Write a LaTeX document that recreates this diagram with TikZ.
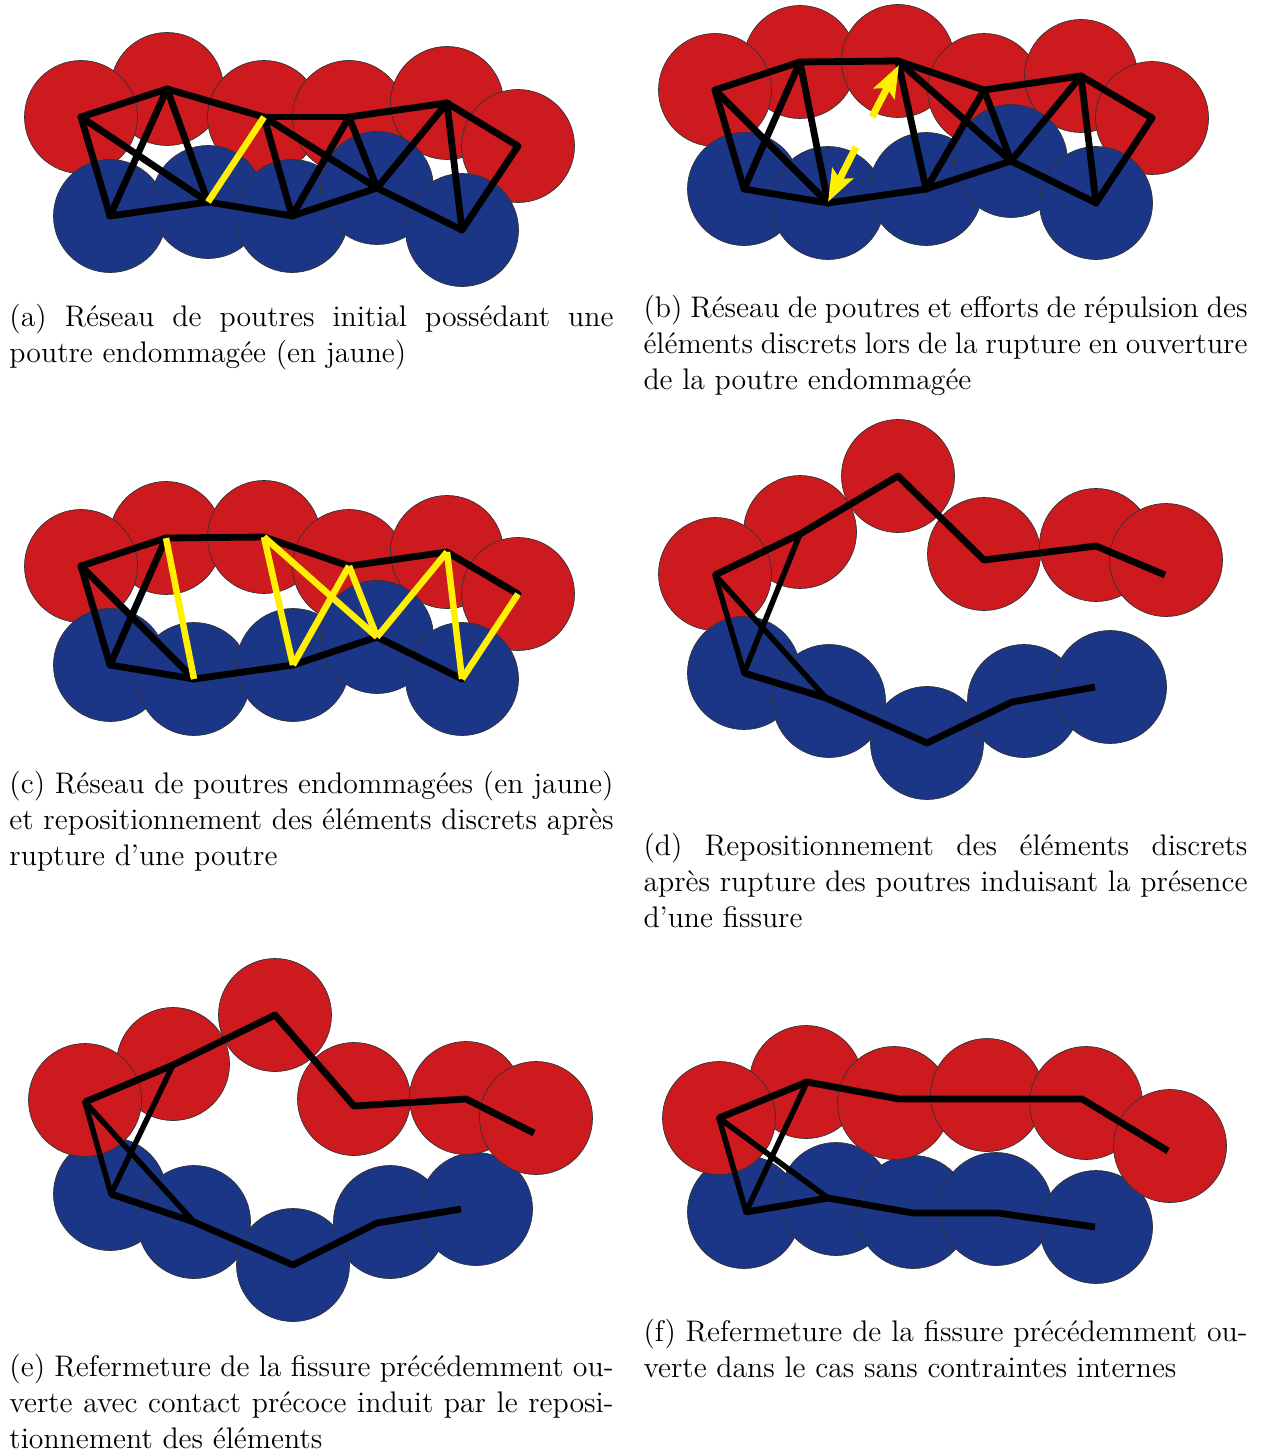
\documentclass[tikz,border=0pt]{standalone}
\usetikzlibrary{arrows.meta}
\definecolor{discred}{RGB}{204,26,30}
\definecolor{discblue}{RGB}{27,54,135}
\definecolor{beamyellow}{RGB}{255,240,0}
\tikzset{
  disc/.style={circle,draw=black!80,line width=0.7bp,inner sep=0pt,minimum size=113bp},
  reddisc/.style={disc,fill=discred},
  bluedisc/.style={disc,fill=discblue},
  beam/.style={draw=black,line width=6.8bp,line cap=round,line join=round},
  rail/.style={draw=black,line width=6.8bp,line cap=butt,line join=round},
  thinbeam/.style={draw=black,line width=5.5bp,line cap=round},
  brokenbeam/.style={draw=beamyellow,line width=6.5bp,line cap=butt},
  force/.style={draw=beamyellow,line width=7bp,-{Stealth[length=32bp,width=23bp,inset=6bp]}},
  caption/.style={anchor=north west,inner sep=0pt,scale=2.49,text width=242.57bp,align=justify,
    font=\fontsize{12}{14.5}\selectfont}
}
\begin{document}
\begin{tikzpicture}[x=1bp,y=-1bp]
\useasboundingbox (0,0) rectangle (1260,1450);
\fill[white] (0,0) rectangle (1260,1450);

% ---------- (a)
\foreach \n/\x/\y in {aR2/167/89,aR1/81/117,aR3/264/117,aR4/349/117,aR5/447/103,aR6/518/146}
  \node[reddisc] (\n) at (\x,\y) {};
\foreach \n/\x/\y in {aB1/110/216,aB2/208/202,aB3/292/216,aB4/377/188,aB5/462/230}
  \node[bluedisc] (\n) at (\x,\y) {};
\foreach \p/\q in {aR1/aR2,aR2/aR3,aR3/aR4,aR4/aR5,aR5/aR6,aB1/aB2,aB2/aB3,aB3/aB4,aB4/aB5,
  aR1/aB1,aR1/aB2,aR2/aB1,aR2/aB2,aR3/aB3,aR3/aB4,aR4/aB3,aR4/aB4,aR5/aB4,aR5/aB5,aR6/aB5}
  \draw[beam] (\p.center) -- (\q.center);
\draw[brokenbeam] (aR3.center) -- (aB2.center);
\node[caption] (capa) at (9,304) {(a) Réseau de poutres initial possédant une\linebreak poutre endommagée (en jaune)};

% ---------- (b)
\foreach \n/\x/\y in {bR2/800/62,bR1/715/90,bR3/898/61,bR4/984/90,bR5/1081/76,bR6/1152/118}
  \node[reddisc] (\n) at (\x,\y) {};
\foreach \n/\x/\y in {bB1/744/189,bB2/828/203,bB3/926/189,bB4/1011/161,bB5/1096/203}
  \node[bluedisc] (\n) at (\x,\y) {};
\foreach \p/\q in {bR1/bR2,bR2/bR3,bR3/bR4,bR4/bR5,bR5/bR6,bB1/bB2,bB2/bB3,bB3/bB4,bB4/bB5,
  bR1/bB1,bR1/bB2,bR2/bB1,bR2/bB2,bR3/bB3,bR3/bB4,bR4/bB3,bR4/bB4,bR5/bB4,bR5/bB5,bR6/bB5}
  \draw[beam] (\p.center) -- (\q.center);
\coordinate (bF1) at (872,117);
\coordinate (bT1) at (899,65);
\coordinate (bF2) at (856,147);
\coordinate (bT2) at (828,202);
\draw[force] (bF1) -- (bT1);
\draw[force] (bF2) -- (bT2);
\node[caption] (capb) at (643,295) {(b) Réseau de poutres et efforts de répulsion des\linebreak éléments discrets lors de la rupture en ouverture\linebreak de la poutre endommagée};

% ---------- (c)
\foreach \n/\x/\y in {cR2/166/538,cR1/81/566,cR3/264/537,cR4/349/566,cR5/447/552,cR6/518/594}
  \node[reddisc] (\n) at (\x,\y) {};
\foreach \n/\x/\y in {cB1/110/665,cB2/194/679,cB3/293/665,cB4/377/637,cB5/462/679}
  \node[bluedisc] (\n) at (\x,\y) {};
\foreach \p/\q in {cR1/cR2,cR2/cR3,cR3/cR4,cR4/cR5,cR5/cR6,cB1/cB2,cB2/cB3,cB3/cB4,cB4/cB5,
  cR1/cB1,cR1/cB2,cR2/cB1}
  \draw[beam] (\p.center) -- (\q.center);
\foreach \p/\q in {cR2/cB2,cR3/cB3,cR3/cB4,cR4/cB3,cR4/cB4,cR5/cB4,cR5/cB5,cR6/cB5}
  \draw[brokenbeam] (\p.center) -- (\q.center);
\node[caption] (capc) at (9,771) {(c) Réseau de poutres endommagées (en jaune)\linebreak et repositionnement des éléments discrets après\linebreak rupture d’une poutre};

% ---------- (d)
\foreach \n/\x/\y in {dR2/800/532,dR1/715/574,dR3/898/476,dR4/984/554,dR5/1096/545,dR6/1166/560}
  \node[reddisc] (\n) at (\x,\y) {};
\foreach \n/\x/\y in {dB1/744/673,dB2/829/701,dB3/927/743,dB4/1024/701,dB5/1110/687}
  \node[bluedisc] (\n) at (\x,\y) {};
\foreach \n/\x/\y in {dJ1/715/575,dJ2/800/534,dJ3/898/476,dJ4/984/560,dJ5/1096/546,dJ6/1165/575,
  dK1/744/673,dK2/826/698,dK3/927/743,dK4/1012/702,dK5/1095/687}
  \coordinate (\n) at (\x,\y);
\foreach \p/\q in {dJ1/dK1,dJ1/dK2,dJ2/dK1}
  \draw[thinbeam] (\p) -- (\q);
\draw[rail] (dJ1) -- (dJ2) -- (dJ3) -- (dJ4) -- (dJ5) -- (dJ6);
\draw[rail] (dK1) -- (dK2) -- (dK3) -- (dK4) -- (dK5);
\node[caption] (capd) at (643,833) {(d) Repositionnement des éléments discrets\linebreak après rupture des poutres induisant la présence\linebreak d’une fissure};

% ---------- (e)
\foreach \n/\x/\y in {eB1/110/1194,eB2/194/1222,eB3/293/1265,eB4/390/1222,eB5/476/1209}
  \node[bluedisc] (\n) at (\x,\y) {};
\foreach \n/\x/\y in {eR2/173/1064,eR1/85/1100,eR3/275/1015,eR4/354/1099,eR5/466/1098,eR6/536/1118}
  \node[reddisc] (\n) at (\x,\y) {};
\foreach \n/\x/\y in {eJ1/85/1102,eJ2/173/1065,eJ3/275/1015,eJ4/354/1106,eJ5/466/1099,eJ6/534/1133,
  eK1/111/1194,eK2/194/1222,eK3/293/1265,eK4/377/1223,eK5/461/1209}
  \coordinate (\n) at (\x,\y);
\foreach \p/\q in {eJ1/eK1,eJ1/eK2,eJ2/eK1}
  \draw[thinbeam] (\p) -- (\q);
\draw[rail] (eJ1) -- (eJ2) -- (eJ3) -- (eJ4) -- (eJ5) -- (eJ6);
\draw[rail] (eK1) -- (eK2) -- (eK3) -- (eK4) -- (eK5);
\node[caption] (cape) at (9,1354) {(e) Refermeture de la fissure précédemment ou-\linebreak verte avec contact précoce induit par le reposi-\linebreak tionnement des éléments};

% ---------- (f)
\foreach \n/\x/\y in {fB1/744/1212,fB2/836/1199,fB3/913/1212,fB4/996/1209,fB5/1096/1227}
  \node[bluedisc] (\n) at (\x,\y) {};
\foreach \n/\x/\y in {fR2/806/1082,fR1/719/1118,fR3/894/1103,fR4/987/1095,fR5/1086/1103,fR6/1170/1146}
  \node[reddisc] (\n) at (\x,\y) {};
\foreach \n/\x/\y in {fJ1/719/1118,fJ2/807/1082,fJ3/899/1099,fJ4/988/1099,fJ5/1082/1099,fJ6/1168/1151,
  fK1/746/1212,fK2/828/1198,fK3/913/1213,fK4/998/1213,fK5/1095/1227}
  \coordinate (\n) at (\x,\y);
\foreach \p/\q in {fJ1/fK1,fJ1/fK2,fJ2/fK1}
  \draw[thinbeam] (\p) -- (\q);
\draw[rail] (fJ1) -- (fJ2) -- (fJ3) -- (fJ4) -- (fJ5) -- (fJ6);
\draw[rail] (fK1) -- (fK2) -- (fK3) -- (fK4) -- (fK5);
\node[caption] (capf) at (643,1319) {(f) Refermeture de la fissure précédemment ou-\linebreak verte dans le cas sans contraintes internes};
\end{tikzpicture}
\end{document}
